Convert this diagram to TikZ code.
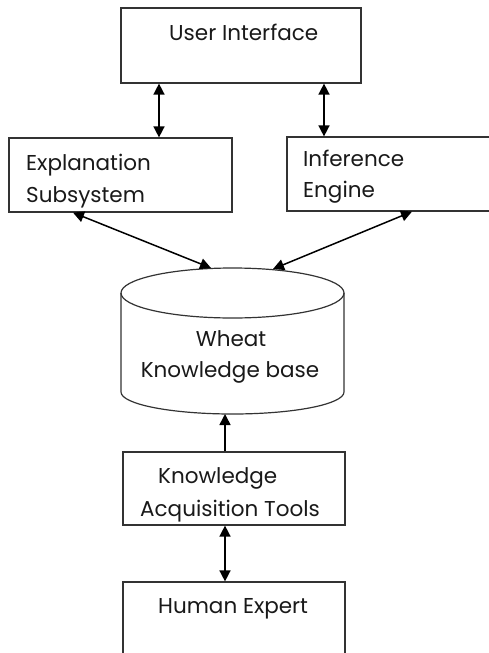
\documentclass[tikz,border=0pt]{standalone}
\usepackage{fontspec}
\setmainfont{Poppins}
\usetikzlibrary{arrows.meta}
\tikzset{
  boxnode/.style={draw=black!80, line width=1.2pt, rectangle, inner sep=0pt},
  lbl/.style={inner sep=0pt, font=\fontsize{21.5}{24}\selectfont, text=black!90},
  link/.style={draw=black, line width=1.5pt},
  tip/.style={-{Triangle[length=11pt,width=11pt]}},
  tips/.style={{Triangle[length=11pt,width=11pt]}-{Triangle[length=11pt,width=11pt]}}
}
\begin{document}
\begin{tikzpicture}[x=1pt,y=-1pt]
\useasboundingbox (0,0) rectangle (489,653);
\clip (0,0) rectangle (489,653);
\fill[white] (0,0) rectangle (489,653);
% boxes
\node[boxnode, minimum width=240pt, minimum height=75pt] (ui) at (241,45.5) {};
\node[boxnode, minimum width=223pt, minimum height=74pt] (expl) at (120.5,175) {};
\node[boxnode, minimum width=210pt, minimum height=74pt] (inf) at (392,174) {};
\node[boxnode, minimum width=222pt, minimum height=73pt] (kat) at (234,488.5) {};
\node[boxnode, minimum width=222pt, minimum height=90pt] (he) at (234,627) {};
% cylinder
\node[inner sep=0pt, minimum width=223pt, minimum height=147pt] (kb) at (232.5,341) {};
\draw[draw=black!80, line width=1.2pt] (232.5,293) ellipse [x radius=111.5, y radius=25];
\draw[draw=black!80, line width=1.2pt] (121,293) -- (121,392) arc[start angle=180, end angle=360, x radius=111.5, y radius=-22] -- (344,293);
% texts
\node[lbl, anchor=base west] (tui) at (169,40) {User Interface};
\node[lbl, anchor=base west] (tex1) at (26,170) {Explanation};
\node[lbl, anchor=base west] (tex2) at (26,202) {Subsystem};
\node[lbl, anchor=base west] (tin1) at (303,166) {Inference};
\node[lbl, anchor=base west] (tin2) at (303,197) {Engine};
\node[lbl, anchor=base] (tkb1) at (231,346) {Wheat};
\node[lbl, anchor=base] (tkb2) at (230,377) {Knowledge base};
\node[lbl, anchor=base west] (tka1) at (158,483) {Knowledge};
\node[lbl, anchor=base west] (tka2) at (140,516) {Acquisition Tools};
\node[lbl, anchor=base west] (the) at (158,613) {Human Expert};
% connector anchor points
\coordinate (xa) at (159,0);
\coordinate (xb) at (324,0);
\coordinate (xc) at (73,0);
\coordinate (xd) at (412,0);
\coordinate (xe) at (225,0);
\coordinate (kbl) at (211,268);
\coordinate (kbr) at (273,269);
\coordinate (kbb) at (225,414);
% connectors
\draw[link, tips] (ui.south -| xa) -- (expl.north -| xa);
\draw[link, tips] (ui.south -| xb) -- (inf.north -| xb);
\draw[link, tips] (expl.south -| xc) -- (kbl);
\draw[link, tips] (inf.south -| xd) -- (kbr);
\draw[link, tip] (kat.north -| xe) -- (kbb);
\draw[link, tips] (kat.south -| xe) -- (he.north -| xe);
\end{tikzpicture}
\end{document}
